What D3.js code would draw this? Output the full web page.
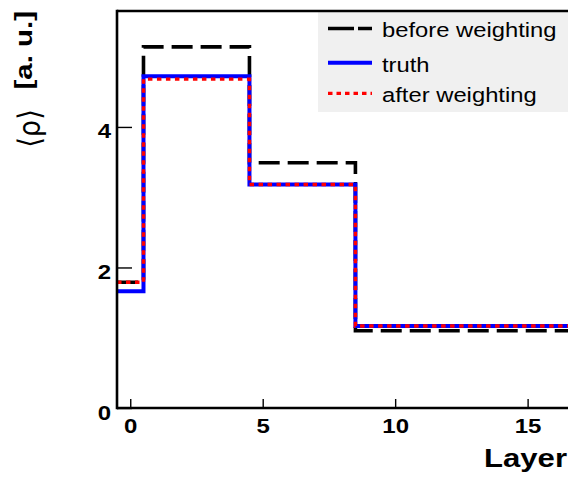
<!DOCTYPE html>
<html>
<head>
<meta charset="utf-8">
<script src="https://cdn.jsdelivr.net/npm/d3@7"></script>
<style>
  html, body { margin: 0; padding: 0; background: #fff; }
  svg { display: block; }
  text { font-family: "Liberation Sans", Arial, Helvetica, sans-serif; fill: #000; }
</style>
</head>
<body>
<svg id="chart" width="568" height="479"></svg>
<script>
// Mean density per calorimeter layer, one bin per layer
const layers = d3.range(0, 20);
const beforeWeighting = [1.79, 5.14, 5.14, 5.14, 5.14, 3.49, 3.49, 3.49, 3.49,
  1.10, 1.10, 1.10, 1.10, 1.10, 1.10, 1.10, 1.10, 1.10, 1.10, 1.10];
const truth = [1.66, 4.72, 4.72, 4.72, 4.72, 3.18, 3.18, 3.18, 3.18,
  1.167, 1.167, 1.167, 1.167, 1.167, 1.167, 1.167, 1.167, 1.167, 1.167, 1.167];
const afterWeighting = [1.79, 4.68, 4.68, 4.68, 4.68, 3.18, 3.18, 3.18, 3.18,
  1.167, 1.167, 1.167, 1.167, 1.167, 1.167, 1.167, 1.167, 1.167, 1.167, 1.167];

const xTicks = [0, 5, 10, 15];
const yTicks = [0, 2, 4];
const seriesNames = ["before weighting", "truth", "after weighting"];

const svg = d3.select("#chart");
const frame = { left: 117, right: 570, top: 11, bottom: 408 };
const sx = 1.2; // horizontal text stretch

const x = d3.scaleLinear().domain([-0.5, 16.6]).range([frame.left, frame.right]);
const y = d3.scaleLinear().domain([0, 5.65]).range([frame.bottom, frame.top]);

svg.append("defs").append("clipPath").attr("id", "plotclip")
  .append("rect")
  .attr("x", frame.left).attr("y", frame.top)
  .attr("width", frame.right - frame.left).attr("height", frame.bottom - frame.top);

// Step outline of a per-layer histogram
function stepPath(values) {
  const pts = [];
  values.forEach((v, i) => {
    pts.push([x(layers[i] - 0.5), y(v)]);
    pts.push([x(layers[i] + 0.5), y(v)]);
  });
  return d3.line()(pts);
}

const series = [
  { name: seriesNames[0], values: beforeWeighting, color: "#000000", width: 3.6, dash: "21,8" },
  { name: seriesNames[1], values: truth, color: "#0000ff", width: 4, dash: null },
  { name: seriesNames[2], values: afterWeighting, color: "#ff0000", width: 3.4, dash: "4.5,4.5" }
];

const plot = svg.append("g").attr("clip-path", "url(#plotclip)");
series.forEach(s => {
  plot.append("path")
    .attr("d", stepPath(s.values))
    .attr("fill", "none")
    .attr("stroke", s.color)
    .attr("stroke-width", s.width)
    .attr("stroke-dasharray", s.dash)
    .attr("stroke-linejoin", "miter")
    .attr("stroke-linecap", "butt");
});

// Legend
const leg = svg.append("g");
leg.append("rect")
  .attr("x", 318).attr("y", 12).attr("width", 260).attr("height", 100)
  .attr("fill", "#f0f0f0");
const legRows = [28.5, 62.8, 93.4];
series.forEach((s, i) => {
  leg.append("line")
    .attr("x1", 328).attr("x2", 372)
    .attr("y1", legRows[i]).attr("y2", legRows[i])
    .attr("stroke", s.color)
    .attr("stroke-width", s.width)
    .attr("stroke-dasharray", i === 0 ? "26,4" : (i === 2 ? "4.5,4" : null));
  leg.append("text")
    .attr("transform", `translate(382,${legRows[i] + 8.8}) scale(1.22,1)`)
    .attr("font-size", 19.5)
    .text(s.name);
});

// Axes with inward ticks
const yAxis = d3.axisLeft(y).tickValues(yTicks).tickFormat(d3.format("d"))
  .tickSizeInner(-15).tickSizeOuter(0);
const gy = svg.append("g").attr("transform", `translate(${frame.left},0)`).call(yAxis);
gy.select(".domain").remove();
gy.selectAll(".tick line").attr("stroke", "#000").attr("stroke-width", 1.4);
gy.selectAll(".tick text")
  .attr("x", null).attr("dy", null).attr("y", null)
  .attr("transform", `translate(-6,11) scale(${sx},1)`)
  .attr("text-anchor", "end")
  .attr("font-size", 20).attr("font-weight", "bold")
  .attr("font-family", "Liberation Sans, Arial, sans-serif").attr("fill", "#000");

const xAxis = d3.axisBottom(x).tickValues(xTicks).tickFormat(d3.format("d"))
  .tickSizeInner(-9).tickSizeOuter(0);
const gx = svg.append("g").attr("transform", `translate(0,${frame.bottom})`).call(xAxis);
gx.select(".domain").remove();
gx.selectAll(".tick line").attr("stroke", "#000").attr("stroke-width", 1.4);
gx.selectAll(".tick text")
  .attr("x", null).attr("dy", null).attr("y", null)
  .attr("transform", `translate(0,25) scale(${sx},1)`)
  .attr("text-anchor", "middle")
  .attr("font-size", 20).attr("font-weight", "bold")
  .attr("font-family", "Liberation Sans, Arial, sans-serif").attr("fill", "#000");

// Frame
const fr = svg.append("g").attr("stroke", "#000").attr("stroke-width", 2.6).attr("fill", "none");
fr.append("line").attr("x1", frame.left).attr("x2", frame.right + 5).attr("y1", frame.top).attr("y2", frame.top);
fr.append("line").attr("x1", frame.left).attr("x2", frame.left).attr("y1", frame.top - 1.3).attr("y2", frame.bottom + 1.3);
fr.append("line").attr("x1", frame.left).attr("x2", frame.right + 5).attr("y1", frame.bottom).attr("y2", frame.bottom);

// Axis titles
svg.append("text")
  .attr("transform", `translate(567,467) scale(1.22,1)`)
  .attr("text-anchor", "end")
  .attr("font-size", 25.5).attr("font-weight", "bold")
  .text("Layer");

svg.append("text")
  .attr("transform", `translate(32,11) rotate(-90) scale(1.28,1)`)
  .attr("text-anchor", "end")
  .attr("font-size", 23).attr("font-weight", "bold")
  .text("[a. u.]");

svg.append("text")
  .attr("transform", `translate(40,128.5) rotate(-90) scale(0.88,1)`)
  .attr("text-anchor", "middle")
  .attr("font-size", 31)
  .style("font-family", "DejaVu Sans, sans-serif")
  .text("\u27E8\u03C1\u27E9");
</script>
</body>
</html>
